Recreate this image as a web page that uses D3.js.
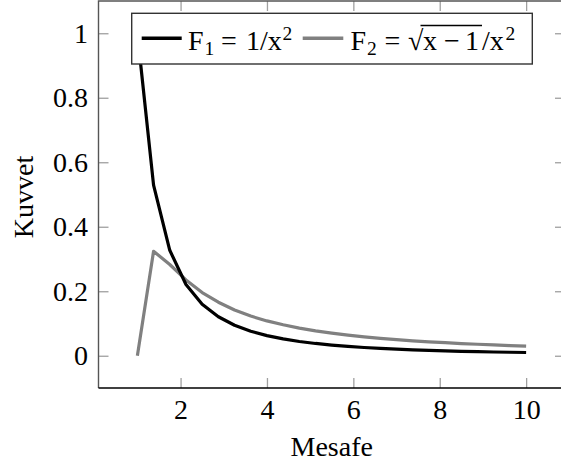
<!DOCTYPE html>
<html lang="tr">
<head>
    <meta charset="UTF-8">
    <title>Kuvvet - Mesafe</title>
    <style>
        body { margin: 0; background: #fff; }
        svg text { font-family: "Liberation Serif", "Times New Roman", serif; fill: #000; }
    </style>
</head>
<body>
    <div id="chart"></div>
    <script src="https://d3js.org/d3.v7.min.js"></script>
    <script>
        // sampled distances (25 samples on 1..10)
        var mesafe = [1, 1.375, 1.75, 2.125, 2.5, 2.875, 3.25, 3.625, 4, 4.375, 4.75, 5.125, 5.5,
                      5.875, 6.25, 6.625, 7, 7.375, 7.75, 8.125, 8.5, 8.875, 9.25, 9.625, 10];
        // F1 = 1/x^2
        var f1 = [1, 0.529, 0.327, 0.221, 0.160, 0.121, 0.0947, 0.0761, 0.0625, 0.0522, 0.0443, 0.0381, 0.0331,
                  0.0290, 0.0256, 0.0228, 0.0204, 0.0184, 0.0166, 0.0151, 0.0138, 0.0127, 0.0117, 0.0108, 0.01];
        // F2 = sqrt(x-1)/x^2
        var f2 = [0, 0.324, 0.283, 0.235, 0.196, 0.166, 0.142, 0.123, 0.108, 0.096, 0.0858, 0.0773, 0.0701,
                  0.0640, 0.0587, 0.0540, 0.0500, 0.0464, 0.0433, 0.0404, 0.0379, 0.0356, 0.0336, 0.0317, 0.030];
        var xTicks = [2, 4, 6, 8, 10];
        var yTicks = [0, 0.2, 0.4, 0.6, 0.8, 1];

        var serif = '"Liberation Serif", "Times New Roman", serif';
        var width = 561, height = 470;
        // plot box (right edge runs past the window, as in the original)
        var pLeft = 98.5, pRight = 565, pTop = 1, pBottom = 388;

        var svg = d3.select("#chart").append("svg")
            .attr("width", width)
            .attr("height", height);

        var x = d3.scaleLinear().domain([0.1, 10.9]).range([pLeft, pRight]);
        var y = d3.scaleLinear().domain([-0.1, 1.1]).range([pBottom, pTop]);

        svg.append("clipPath").attr("id", "plotclip")
            .append("rect")
            .attr("x", pLeft).attr("y", pTop)
            .attr("width", pRight - pLeft).attr("height", pBottom - pTop);

        // mirrored ticks on top and right
        svg.append("g")
            .attr("transform", "translate(0," + pTop + ")")
            .call(d3.axisTop(x).tickValues(xTicks).tickSize(-10).tickFormat(""));
        svg.append("g")
            .attr("transform", "translate(" + pRight + ",0)")
            .call(d3.axisRight(y).tickValues(yTicks).tickSize(-10).tickFormat(""));

        var xAxis = svg.append("g")
            .attr("transform", "translate(0," + pBottom + ")")
            .call(d3.axisBottom(x).tickValues(xTicks).tickSize(-10).tickPadding(11).tickFormat(d3.format("~g")));
        var yAxis = svg.append("g")
            .attr("transform", "translate(" + pLeft + ",0)")
            .call(d3.axisLeft(y).tickValues(yTicks).tickSize(-10).tickPadding(10.5).tickFormat(d3.format("~g")));

        svg.selectAll("g").attr("font-family", serif).attr("font-size", 28);
        svg.selectAll(".tick line").attr("stroke", "#a0a0a0").attr("stroke-width", 1.3);
        svg.selectAll(".domain").remove();
        svg.selectAll(".tick text").style("font-family", serif).style("font-size", "28px").attr("fill", "#000");
        xAxis.selectAll(".tick text").attr("dy", "0.71em");

        // frame
        svg.append("path")
            .attr("d", "M" + pLeft + "," + pBottom + "V" + pTop + "H" + pRight)
            .attr("fill", "none").attr("stroke", "#555").attr("stroke-width", 1.4);
        svg.append("line")
            .attr("x1", pLeft).attr("x2", pRight).attr("y1", pBottom).attr("y2", pBottom)
            .attr("stroke", "#000").attr("stroke-width", 1.6);

        var line = d3.line()
            .x(function(d) { return x(d[0]); })
            .y(function(d) { return y(d[1]); });

        var plot = svg.append("g").attr("clip-path", "url(#plotclip)");
        plot.append("path")
            .datum(d3.zip(mesafe, f2))
            .attr("d", line)
            .attr("fill", "none").attr("stroke", "#808080").attr("stroke-width", 3.2)
            .attr("stroke-linejoin", "round");
        plot.append("path")
            .datum(d3.zip(mesafe, f1))
            .attr("d", line)
            .attr("fill", "none").attr("stroke", "#000").attr("stroke-width", 3.2)
            .attr("stroke-linejoin", "round");

        // axis labels
        svg.append("text")
            .attr("x", (pLeft + pRight) / 2).attr("y", 456)
            .attr("text-anchor", "middle")
            .style("font-size", "28px")
            .text("Mesafe");
        svg.append("text")
            .attr("transform", "translate(33,197) rotate(-90)")
            .attr("text-anchor", "middle")
            .style("font-size", "28px")
            .text("Kuvvet");

        // legend
        var leg = svg.append("g");
        leg.append("rect")
            .attr("x", 131.7).attr("y", 13.3).attr("width", 400.6).attr("height", 50.7)
            .attr("fill", "#fff").attr("stroke", "#333").attr("stroke-width", 1.4);

        leg.append("line").attr("x1", 141.7).attr("x2", 181.7).attr("y1", 38.3).attr("y2", 38.3)
            .attr("stroke", "#000").attr("stroke-width", 3.4);
        leg.append("line").attr("x1", 302.7).attr("x2", 343.3).attr("y1", 38.3).attr("y2", 38.3)
            .attr("stroke", "#808080").attr("stroke-width", 3.4);

        function piece(g, px, py, s, size) {
            g.append("text").attr("x", px).attr("y", py)
                .style("font-size", size + "px").text(s);
        }
        // F1 = 1/x^2
        piece(leg, 188, 50, "F", 28);
        piece(leg, 204.5, 55, "1", 19.5);
        piece(leg, 221, 50, "=", 28);
        piece(leg, 246, 50, "1/x", 28);
        piece(leg, 282.5, 40, "2", 19.5);

        // F2 = sqrt(x-1)/x^2
        piece(leg, 350.5, 50, "F", 28);
        piece(leg, 367, 55, "2", 19.5);
        piece(leg, 384.5, 50, "=", 28);
        piece(leg, 408, 50, "\u221a", 28);
        piece(leg, 423, 50, "x", 28);
        piece(leg, 444, 50, "\u2212", 28);
        piece(leg, 465, 50, "1", 28);
        piece(leg, 482, 50, "/x", 28);
        piece(leg, 505.5, 40, "2", 19.5);
        leg.append("line")
            .attr("x1", 420.5).attr("x2", 482).attr("y1", 25.5).attr("y2", 25.5)
            .attr("stroke", "#000").attr("stroke-width", 1.3);
    </script>
</body>
</html>
